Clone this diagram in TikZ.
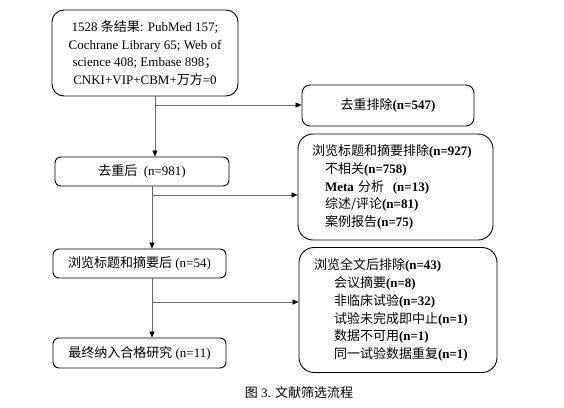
\documentclass[tikz,border=0pt]{standalone}
\usepackage{fontspec}
\setmainfont{Liberation Serif}
\newfontfamily\cjk{Noto Sans CJK SC}
\newcommand{\zh}[1]{{\cjk #1}}
\usetikzlibrary{arrows.meta}
\begin{document}
\begin{tikzpicture}[x=1pt,y=-1pt,
  box/.style={draw=black, line width=0.9pt, rounded corners=7pt, inner sep=0pt,
    align=center, font=\fontsize{13}{17.7}\selectfont},
  conn/.style={draw=black!60, line width=0.8pt},
  arr/.style={conn, -{Triangle[length=6pt,width=5pt,color=black]}}
]
\useasboundingbox (0,0) rectangle (564,407);

\node[box, rounded corners=12pt, minimum width=186pt, minimum height=86pt] (src) at (145,53)
  {1528 \zh{条结果}: PubMed 157;\\ Cochrane Library 65; Web of\\ science 408; Embase 898\zh{；}\\ CNKI+VIP+CBM+\zh{万方}=0};
\node[box, rounded corners=8pt, minimum width=172pt, minimum height=41pt] (del) at (388,105.5)
  {\zh{去重排除}\textbf{(n=547)}};
\node[box, rounded corners=6pt, minimum width=174pt, minimum height=29pt] (dd) at (142,171.5)
  {\zh{去重后}\ \ (n=981)};
\node[box, rounded corners=15pt, minimum width=195pt, minimum height=106pt, text width=167pt, align=left] (ex1) at (395.5,187)
  {\zh{浏览标题和摘要排除}\textbf{(n=927)}\\
   \hspace*{13pt}\zh{不相关}\textbf{(n=758)}\\
   \hspace*{13pt}\textbf{Meta} \zh{分析}\ \ \textbf{(n=13)}\\
   \hspace*{13pt}\zh{综述/评论}\textbf{(n=81)}\\
   \hspace*{13pt}\zh{案例报告}\textbf{(n=75)}};
\node[box, rounded corners=6pt, minimum width=173pt, minimum height=29pt] (ta) at (139.5,263.5)
  {\zh{浏览标题和摘要后} (n=54)};
\node[box, rounded corners=15pt, minimum width=198pt, minimum height=125pt, text width=168pt, align=left] (ex2) at (398,310)
  {\zh{浏览全文后排除}\textbf{(n=43)}\\
   \hspace*{20pt}\zh{会议摘要}\textbf{(n=8)}\\
   \hspace*{20pt}\zh{非临床试验}\textbf{(n=32)}\\
   \hspace*{20pt}\zh{试验未完成即中止}\textbf{(n=1)}\\
   \hspace*{20pt}\zh{数据不可用}\textbf{(n=1)}\\
   \hspace*{20pt}\zh{同一试验数据重复}\textbf{(n=1)}};
\node[box, rounded corners=6pt, minimum width=173pt, minimum height=30pt] (fin) at (139.5,353)
  {\zh{最终纳入合格研究} (n=11)};
\node[font=\fontsize{13}{15}\selectfont] (cap) at (299,393) {\zh{图} 3. \zh{文献筛选流程}};

\coordinate (j1) at (155,105);
\coordinate (j2) at (152,195);
\coordinate (j3) at (152,302);
\draw[arr] (src.south -| j1) -- (dd.north -| j1);
\draw[arr] (j1) -- (del.west |- j1);
\draw[arr] (dd.south -| j2) -- (ta.north -| j2);
\draw[arr] (j2) -- (ex1.west |- j2);
\draw[arr] (ta.south -| j3) -- (fin.north -| j3);
\draw[arr] (j3) -- (ex2.west |- j3);
\end{tikzpicture}
\end{document}
